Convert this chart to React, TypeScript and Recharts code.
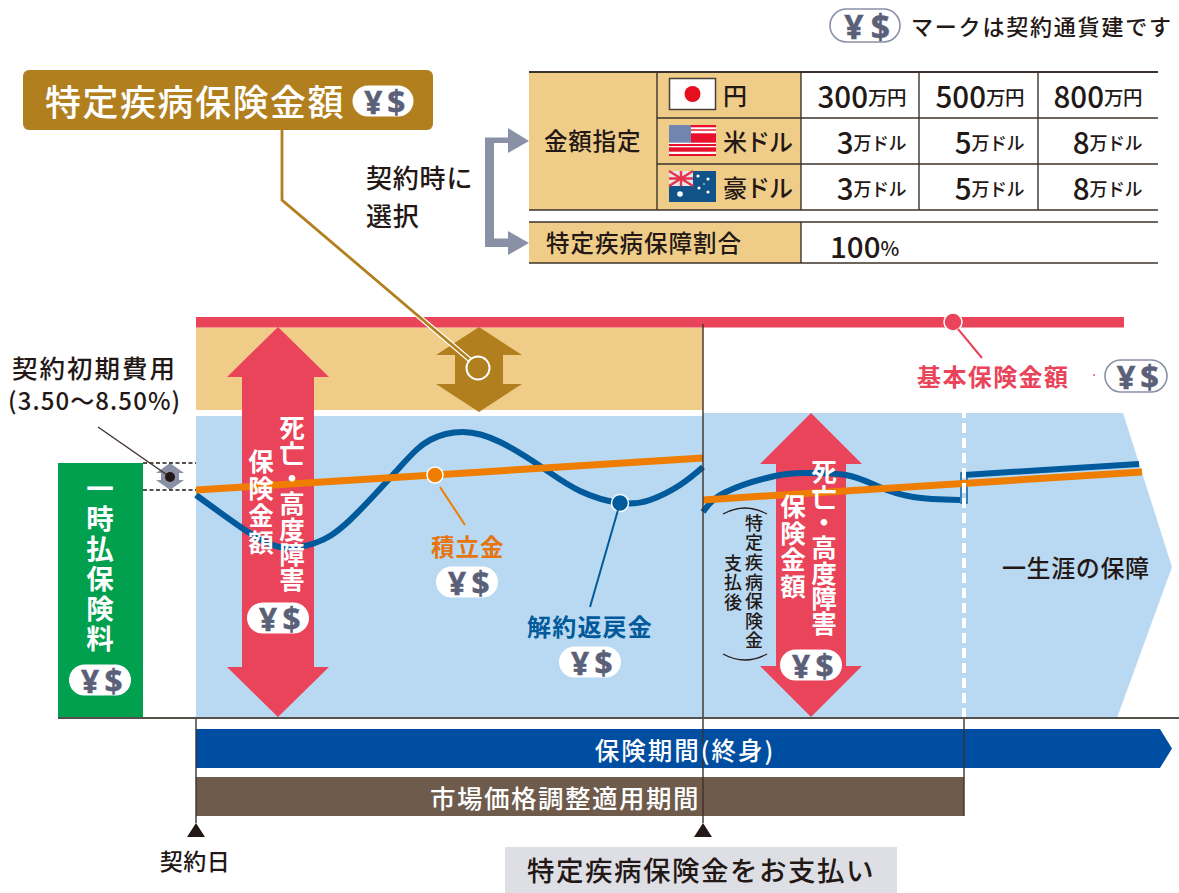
import React from 'react';
import { ComposedChart, XAxis, YAxis, Line, Area, ReferenceArea, ReferenceLine, ReferenceDot } from 'recharts';

// Policy timeline: x runs along the coverage period, y is the amount above the baseline.
const accountX1 = [0, 507];
const accountY1 = [228, 260];
const accountX2 = [507, 946];
const accountY2 = [218, 246];

const surrenderX1 = [0, 46, 84, 119, 154, 204, 234, 267, 304, 347, 384, 424, 454, 484, 507];
const surrenderY1 = [223, 190, 171, 175, 198, 251, 278, 286, 276, 250, 227, 215, 218, 233, 251];
const surrenderX2 = [507, 530, 579, 610, 650, 681, 717, 764];
const surrenderY2 = [206, 226, 242, 245, 243, 232, 221, 218];
const surrenderX3 = [768, 943];
const surrenderY3 = [243, 254];

const coverageX = [507, 921, 927, 976];
const coverageLow = [0, 0, 16.5, 151];
const coverageHigh = [305, 305, 305, 151];
const periodX = [0, 964, 976];
const periodLow = [-50, -50, -30.5];
const periodHigh = [-11, -11, -30.5];

const CLAIM_T = 507;
const ADJUST_END_T = 768;
const BASE_SUM_TOP = 401;
const BASE_SUM_BOTTOM = 390.5;
const CRITICAL_LOW = 308;
const PREMIUM_TOP = 255;
const FEE_BAND = [228, 255];

const currencies = ['円', '米ドル', '豪ドル'];
const amounts = [['300', '500', '800'], ['3', '5', '8'], ['3', '5', '8']];
const units = ['万円', '万ドル', '万ドル'];

const zip = (xs: number[], ys: number[]) => xs.map((x, i) => ({ x, y: ys[i] }));
const band = (xs: number[], low: number[], high: number[]) => xs.map((x, i) => ({ x, range: [low[i], high[i]] }));

const FONT = '"Noto Sans CJK JP", "Noto Sans", sans-serif';
const INK = '#231815';
const RED = '#E9445A';
const TAN = '#EFCD89';
const GOLD = '#B27F1E';
const SKY = '#B9D8F1';
const ORANGE = '#EF7D00';
const NAVY = '#005A9C';
const MARK = '#5A6078';

type ArrowProps = { x?: number; y?: number; width?: number; height?: number; fill?: string; head: number; shaft: number };
// Double-headed arrow fitted to the box the reference area resolves to.
const DoubleArrow = ({ x = 0, y = 0, width = 0, height = 0, fill, head, shaft }: ArrowProps) => {
  const cx = x + width / 2;
  const l = cx - shaft / 2;
  const r = cx + shaft / 2;
  const pts = [
    [cx, y], [x + width, y + head], [r, y + head], [r, y + height - head], [x + width, y + height - head],
    [cx, y + height], [x, y + height - head], [l, y + height - head], [l, y + head], [x, y + head],
  ];
  return <polygon points={pts.map((p) => p.join(',')).join(' ')} fill={fill} />;
};

type TProps = { x: number; y: number; size: number; children: React.ReactNode; fill?: string; anchor?: 'start' | 'middle' | 'end'; spacing?: number; weight?: number };
const T = ({ x, y, size, children, fill = INK, anchor = 'start', spacing = 0, weight = 500 }: TProps) => (
  <text x={x} y={y - 1} fontSize={size} fill={fill} textAnchor={anchor} dominantBaseline="central" letterSpacing={spacing} fontWeight={weight} fontFamily={FONT}>
    {children}
  </text>
);

type VProps = { x: number; y: number; size: number; children: string; fill?: string; spacing?: number; weight?: number };
const V = ({ x, y, size, children, fill = '#fff', spacing = 0, weight = 700 }: VProps) => (
  <text x={x} y={y} fontSize={size} fill={fill} letterSpacing={spacing} fontWeight={weight} fontFamily={FONT} style={{ writingMode: 'vertical-rl', textOrientation: 'upright' }}>
    {children}
  </text>
);

const Badge = ({ cx, cy, w = 62, h = 31, outline = false }: { cx: number; cy: number; w?: number; h?: number; outline?: boolean }) => (
  <g>
    <rect x={cx - w / 2} y={cy - h / 2} width={w} height={h} rx={h / 2} fill="#fff" stroke={outline ? '#8A90A5' : 'none'} strokeWidth={outline ? 1.6 : 0} />
    <text x={cx - w * 0.16} y={cy} fontSize={h * 1.02} fill={MARK} stroke={MARK} strokeWidth={0.5} textAnchor="middle" dominantBaseline="central" fontWeight={700} fontFamily='"Noto Sans", sans-serif'>¥</text>
    <text x={cx + w * 0.22} y={cy} fontSize={h * 1.02} fill={MARK} stroke={MARK} strokeWidth={0.5} textAnchor="middle" dominantBaseline="central" fontWeight={700} fontFamily='"Noto Sans", sans-serif'>$</text>
  </g>
);

const FlagJapan = () => (
  <g>
    <rect x={669.5} y={78.5} width={46} height={31} fill="#fff" stroke="#4a4038" strokeWidth={1.5} />
    <circle cx={692.5} cy={94} r={8} fill="#E60F1E" />
  </g>
);

const usStripes = [[691, 125, 2.3], [691, 129.3, 1.4], [691, 133.3, 9.4], [669, 144, 2], [669, 147.3, 4.4], [669, 154, 2]];

const FlagUS = () => (
  <g>
    <rect x={669} y={125} width={47} height={31} fill="#fff" />
    {usStripes.map(([x, y, h]) => (
      <rect key={y} x={x} y={y} width={716 - x} height={h} fill="#E8102A" />
    ))}
    <rect x={669} y={125} width={22} height={17.7} fill="#7284B0" />
  </g>
);

const FlagAustralia = () => (
  <g>
    <rect x={669} y={171} width={47} height={31} fill="#0F5388" />
    <rect x={669} y={171} width={24} height={15} fill="#E9E3EA" />
    <path d="M669 171 L693 186 M693 171 L669 186 M681 171 V186 M669 178.5 H693" stroke="#E4354A" strokeWidth={2.4} />
    {[[680, 194, 2.8], [698, 176, 1.6], [708, 179, 1.6], [699, 188, 1.6], [708, 192, 1.6], [704, 184, 0.8]].map(([x, y, r]) => (
      <circle key={`${x}-${y}`} cx={x} cy={y} r={r} fill="#fff" />
    ))}
  </g>
);

const Overlay = () => (
  <svg width={1179} height={893} style={{ position: 'absolute', left: 0, top: 0 }}>
    {/* currency note */}
    <Badge cx={865} cy={25.5} w={70} h={33} outline />
    <T x={911} y={26} size={22} spacing={1.8}>マークは契約通貨建です</T>

    {/* title plate with its leader */}
    <polyline points="282,130 282,200 470,360" fill="none" stroke="#fff" strokeWidth={5} />
    <polyline points="282,130 282,200 470,360" fill="none" stroke={GOLD} strokeWidth={2.8} />
    <rect x={23} y={70} width={410} height={60} rx={6} fill={GOLD} />
    <T x={45} y={101} size={36} fill="#fff" spacing={1.5}>特定疾病保険金額</T>
    <Badge cx={383} cy={101} w={61} h={31} />
    <circle cx={478} cy={368} r={11.5} fill={GOLD} stroke="#fff" strokeWidth={2} />

    {/* selection bracket */}
    <T x={366} y={177} size={26} spacing={0.8}>契約時に</T>
    <T x={366} y={215} size={26} spacing={0.8}>選択</T>
    <path d="M508 137.5 H485 V247 H508 V238.5 H494 V143 H508 Z" fill="#8A90A5" />
    <polygon points="508,128 529,141 508,153" fill="#8A90A5" />
    <polygon points="508,231 529,243 508,255" fill="#8A90A5" />

    {/* option table */}
    <rect x={529} y={72} width={272} height={138} fill={TAN} />
    <rect x={529} y={222} width={272} height={41} fill={TAN} />
    {[72, 118, 164, 210].map((y, i) => (
      <line key={y} x1={i === 0 || i === 3 ? 529 : 657} x2={1158} y1={y} y2={y} stroke="#3D322B" strokeWidth={i === 0 ? 2 : 1.4} />
    ))}
    {[222, 263].map((y) => <line key={y} x1={529} x2={1158} y1={y} y2={y} stroke="#3D322B" strokeWidth={1.4} />)}
    {[657, 801, 919, 1038].map((x) => <line key={x} x1={x} x2={x} y1={72} y2={210} stroke="#3D322B" strokeWidth={1.4} />)}
    <line x1={801} x2={801} y1={222} y2={263} stroke="#3D322B" strokeWidth={1.4} />
    <T x={544} y={141} size={23.5} spacing={0.8}>金額指定</T>
    <T x={546} y={243} size={23.5} spacing={1}>特定疾病保障割合</T>
    <FlagJapan />
    <FlagUS />
    <FlagAustralia />
    {currencies.map((c, i) => (
      <T key={c} x={723} y={95 + i * 46} size={24} spacing={-1}>{c}</T>
    ))}
    {amounts.map((row, i) =>
      row.map((a, j) => (
        <text key={`${i}-${j}`} x={906 + j * 118} y={94.5 + i * 46} textAnchor="end" dominantBaseline="central" fontFamily={FONT} fontWeight={500} fill={INK}>
          <tspan fontSize={29.5}>{a}</tspan>
          <tspan fontSize={i === 0 ? 19.5 : 18} letterSpacing={-0.5} dy={1.5}>{units[i]}</tspan>
        </text>
      ))
    )}
    <text x={830} y={245} dominantBaseline="central" fontFamily={FONT} fontWeight={500} fill={INK}>
      <tspan fontSize={29.5}>100</tspan>
      <tspan fontSize={20} dy={1.5}>%</tspan>
    </text>

    {/* acquisition cost callout */}
    <T x={12} y={367} size={25.5} spacing={2}>契約初期費用</T>
    <T x={8} y={400} size={24} spacing={1.1}>(3.50〜8.50%)</T>
    <line x1={98} y1={427} x2={170} y2={477} stroke="#3D322B" strokeWidth={1.4} />
    <circle cx={170} cy={477} r={5} fill={INK} />

    {/* premium column */}
    <V x={100} y={475} size={27.5} spacing={2.4}>一時払保険料</V>
    <Badge cx={100} cy={680} />

    {/* first benefit arrow */}
    <V x={292} y={415} size={25.5} spacing={-0.2}>死亡・高度障害</V>
    <V x={261} y={449} size={25.5} spacing={1.5}>保険金額</V>
    <Badge cx={278} cy={618} />

    {/* series labels with their leaders */}
    <line x1={440} y1={487} x2={465} y2={525} stroke={ORANGE} strokeWidth={2} />
    <T x={431} y={547} size={23.5} fill="#E6740F" spacing={1} weight={700}>積立金</T>
    <Badge cx={467} cy={582} />
    <line x1={618} y1={510} x2={590} y2={607} stroke={NAVY} strokeWidth={2} />
    <T x={527} y={626} size={24} fill={NAVY} spacing={1.2} weight={700}>解約返戻金</T>
    <Badge cx={590} cy={662} />

    {/* after-claim note */}
    <path d="M723 514 Q745 502 767 514" fill="none" stroke={INK} strokeWidth={1.3} />
    <path d="M723 654 Q745 666 767 654" fill="none" stroke={INK} strokeWidth={1.3} />
    <V x={754} y={514} size={18} fill={INK} spacing={1.6} weight={500}>特定疾病保険金</V>
    <V x={733} y={554} size={18} fill={INK} spacing={1.6} weight={500}>支払後</V>

    {/* second benefit arrow */}
    <V x={824} y={459} size={25.5} spacing={-0.2}>死亡・高度障害</V>
    <V x={793} y={494} size={25.5} spacing={1}>保険金額</V>
    <Badge cx={811} cy={665} />

    {/* base sum label */}
    <line x1={958} y1={329} x2={982} y2={358} stroke={RED} strokeWidth={2} />
    <T x={917} y={376} size={24} fill={RED} spacing={1.4} weight={700}>基本保険金額</T>
    <circle cx={1094} cy={375} r={0.9} fill={RED} />
    <Badge cx={1136} cy={376} h={32} outline />

    <T x={1002} y={567} size={24} spacing={0.6}>一生涯の保障</T>

    {/* period bars and markers */}
    <T x={685} y={750} size={24.5} fill="#fff" anchor="middle" spacing={2}>保険期間(終身)</T>
    <T x={565} y={797} size={25.5} fill="#fff" anchor="middle" spacing={1.5}>市場価格調整適用期間</T>
    <polygon points="196,823 205,837 187,837" fill={INK} />
    <polygon points="703,823 712,837 694,837" fill={INK} />
    <T x={195} y={861} size={23} anchor="middle" spacing={0.5}>契約日</T>
    <rect x={505} y={847} width={392} height={46} fill="#DEDFE5" />
    <T x={701} y={870} size={27.5} anchor="middle" spacing={1.5}>特定疾病保険金をお支払い</T>
  </svg>
);

export default function App() {
  return (
    <div style={{ position: 'absolute', left: 0, top: 0, width: 1179, height: 893, background: '#fff', overflow: 'hidden' }}>
      <ComposedChart width={1179} height={893} margin={{ top: 0, right: 0, bottom: 0, left: 0 }} data={zip(accountX1, accountY1)}>
        <XAxis type="number" dataKey="x" domain={[-196, 983]} hide allowDataOverflow />
        <YAxis type="number" domain={[-175, 718]} hide allowDataOverflow />

        <ReferenceArea x1={0} x2={CLAIM_T} y1={0} y2={302} fill={SKY} fillOpacity={1} stroke="none" />
        <ReferenceArea x1={0} x2={CLAIM_T} y1={308} y2={BASE_SUM_BOTTOM} fill={TAN} fillOpacity={1} stroke="none" />
        <ReferenceArea x1={-138} x2={-53} y1={0} y2={PREMIUM_TOP} fill="#00A04F" fillOpacity={1} stroke="none" />
        <Area data={band(coverageX, coverageLow, coverageHigh)} dataKey="range" type="linear" fill={SKY} fillOpacity={1} stroke="none" dot={false} activeDot={false} isAnimationActive={false} />
        <ReferenceArea x1={0} x2={928} y1={BASE_SUM_BOTTOM} y2={BASE_SUM_TOP} fill={RED} fillOpacity={1} stroke="none" />

        <ReferenceLine segment={[{ x: -53, y: FEE_BAND[1] }, { x: 0, y: FEE_BAND[1] }]} stroke={INK} strokeWidth={1.3} strokeDasharray="4 2.5" />
        <ReferenceLine segment={[{ x: -53, y: FEE_BAND[0] }, { x: 0, y: FEE_BAND[0] }]} stroke={INK} strokeWidth={1.3} strokeDasharray="4 2.5" />
        <ReferenceArea x1={-40} x2={-12} y1={FEE_BAND[0]} y2={FEE_BAND[1]} fill="#8A90A5" fillOpacity={1} stroke="none" shape={<DoubleArrow head={10} shaft={18} />} />

        <Line data={zip(surrenderX1, surrenderY1)} dataKey="y" type="natural" stroke={NAVY} strokeWidth={6} dot={false} activeDot={false} isAnimationActive={false} />
        <Line data={zip(surrenderX2, surrenderY2)} dataKey="y" type="natural" stroke={NAVY} strokeWidth={6} dot={false} activeDot={false} isAnimationActive={false} />
        <Line data={zip(surrenderX3, surrenderY3)} dataKey="y" type="linear" stroke={NAVY} strokeWidth={6} dot={false} activeDot={false} isAnimationActive={false} />
        <ReferenceArea x1={ADJUST_END_T - 3} x2={ADJUST_END_T + 3} y1={215} y2={245} fill="none" fillOpacity={0} stroke={NAVY} strokeWidth={1.4} />
        <Line data={zip(accountX1, accountY1)} dataKey="y" type="linear" stroke={ORANGE} strokeWidth={7} dot={false} activeDot={false} isAnimationActive={false} />
        <Line data={zip(accountX2, accountY2)} dataKey="y" type="linear" stroke={ORANGE} strokeWidth={7} dot={false} activeDot={false} isAnimationActive={false} />

        <ReferenceLine segment={[{ x: ADJUST_END_T, y: 0 }, { x: ADJUST_END_T, y: 305 }]} stroke="#fff" strokeWidth={4} strokeDasharray="10 5" />

        <ReferenceLine segment={[{ x: CLAIM_T, y: -105 }, { x: CLAIM_T, y: 394 }]} stroke="#3D322B" strokeWidth={1.4} />
        <ReferenceLine segment={[{ x: 0, y: -105 }, { x: 0, y: 0 }]} stroke="#3D322B" strokeWidth={1.4} />
        <ReferenceLine segment={[{ x: ADJUST_END_T, y: -98 }, { x: ADJUST_END_T, y: 0 }]} stroke="#3D322B" strokeWidth={1.4} />
        <ReferenceLine segment={[{ x: -138, y: 0 }, { x: 983, y: 0 }]} stroke="#555049" strokeWidth={2} />

        <Area data={band(periodX, periodLow, periodHigh)} dataKey="range" type="linear" fill="#004EA2" fillOpacity={1} stroke="none" dot={false} activeDot={false} isAnimationActive={false} />
        <ReferenceArea x1={0} x2={ADJUST_END_T} y1={-98} y2={-59} fill="#6E5B4C" fillOpacity={1} stroke="none" />

        <ReferenceArea x1={31} x2={133} y1={1} y2={391} fill={RED} fillOpacity={1} stroke="none" shape={<DoubleArrow head={50} shaft={72} />} />
        <ReferenceArea x1={564} x2={666} y1={1} y2={305} fill={RED} fillOpacity={1} stroke="none" shape={<DoubleArrow head={51} shaft={70} />} />
        <ReferenceArea x1={240} x2={326} y1={CRITICAL_LOW - 2} y2={391} fill={GOLD} fillOpacity={1} stroke="none" shape={<DoubleArrow head={28} shaft={48} />} />

        <ReferenceDot x={239} y={243} r={8} fill={ORANGE} stroke="#fff" strokeWidth={1.5} />
        <ReferenceDot x={424} y={215} r={8.5} fill={NAVY} stroke="#fff" strokeWidth={1.5} />
        <ReferenceDot x={757} y={396} r={9} fill={RED} stroke="#fff" strokeWidth={1.5} />
      </ComposedChart>
      <Overlay />
    </div>
  );
}
